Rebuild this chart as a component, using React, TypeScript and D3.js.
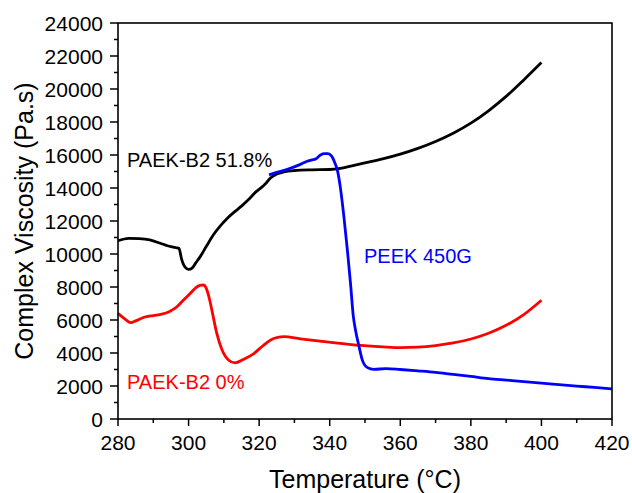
import React from 'react';
import * as d3 from 'd3';

// PAEK-B2 51.8% (black)
const blackT = [280, 283, 286, 289, 292, 294, 296.5, 297.3, 298, 299, 300, 301, 302, 303.3, 305, 307, 309, 311, 313, 315, 317, 319, 321, 322, 323.2, 325, 327, 330, 335, 340, 343, 346, 350, 355, 360, 365, 370, 375, 380, 385, 390, 395, 400];
const blackV = [10800, 10950, 10930, 10850, 10650, 10500, 10380, 10330, 9700, 9200, 9070, 9150, 9450, 9840, 10450, 11150, 11700, 12170, 12550, 12900, 13300, 13750, 14100, 14300, 14600, 14850, 14980, 15060, 15100, 15120, 15190, 15330, 15520, 15760, 16050, 16400, 16820, 17320, 17930, 18680, 19550, 20550, 21600];

// PEEK 450G (blue)
const blueT = [322.8, 325, 328, 331.7, 333.6, 335, 336, 337.4, 338.5, 339.5, 340.5, 341.5, 342.2, 343.1, 344, 345, 345.9, 346.7, 347.3, 348.3, 349.2, 350.6, 352.5, 356, 360, 365, 370, 375, 380, 385, 390, 395, 400, 405, 410, 415, 420];
const blueV = [14800, 14950, 15130, 15430, 15620, 15700, 15760, 16000, 16080, 16080, 15950, 15500, 15050, 13900, 12300, 10250, 8200, 6200, 5400, 4400, 3600, 3130, 3010, 3050, 3000, 2920, 2830, 2700, 2580, 2450, 2360, 2270, 2170, 2080, 1990, 1920, 1830];

// PAEK-B2 0% (red)
const redT = [280, 282, 283.6, 285, 287.2, 290, 292.4, 294.5, 296.7, 298.5, 300.5, 302, 303.2, 304.2, 305.2, 306, 306.6, 308, 309.5, 311.3, 313.2, 315.6, 318.4, 321.3, 324.1, 327, 331.7, 336, 341, 348.8, 355, 360, 365, 370, 375, 380, 385, 390, 395, 400];
const redV = [6400, 6050, 5840, 5950, 6150, 6270, 6350, 6500, 6800, 7200, 7620, 7950, 8100, 8120, 7820, 7200, 6600, 5190, 4180, 3580, 3400, 3620, 3950, 4480, 4880, 4990, 4860, 4750, 4630, 4460, 4370, 4320, 4350, 4450, 4610, 4850, 5200, 5680, 6330, 7200];

const xTicks = [280, 300, 320, 340, 360, 380, 400, 420];
const yTicks = [0, 2000, 4000, 6000, 8000, 10000, 12000, 14000, 16000, 18000, 20000, 22000, 24000];

const W = 632;
const H = 493;
const left = 118;
const right = 612;
const top = 23;
const bottom = 419;
const font = 'Arial, "Liberation Sans", sans-serif';

export default function App() {
  const x = d3.scaleLinear().domain([280, 420]).range([left, right]);
  const y = d3.scaleLinear().domain([0, 24000]).range([bottom, top]);

  const line = d3
    .line<[number, number]>()
    .x(d => x(d[0]))
    .y(d => y(d[1]))
    .curve(d3.curveMonotoneX);

  const series = [
    { t: blackT, v: blackV, color: '#000000' },
    { t: redT, v: redV, color: '#ff0000' },
    { t: blueT, v: blueV, color: '#0000ff' },
  ];

  const xMinor = d3.range(290, 420, 20);
  const yMinor = d3.range(1000, 24000, 2000);

  return (
    <svg width={W} height={H} style={{ position: 'absolute', left: 0, top: 0, background: '#fff' }} fontFamily={font}>
      {series.map((s, i) => (
        <path
          key={i}
          d={line(s.t.map((t, j) => [t, s.v[j]] as [number, number])) || ''}
          fill="none"
          stroke={s.color}
          strokeWidth={2.8}
          strokeLinejoin="round"
        />
      ))}

      {/* frame */}
      <rect x={left} y={top} width={right - left} height={bottom - top} fill="none" stroke="#000" strokeWidth={1.6} />

      {/* y axis ticks */}
      {yTicks.map(t => (
        <g key={'y' + t}>
          <line x1={left - 8} x2={left} y1={y(t)} y2={y(t)} stroke="#000" strokeWidth={1.5} />
          <text x={103} y={y(t)} dy="0.36em" textAnchor="end" fontSize={21}>
            {t}
          </text>
        </g>
      ))}
      {yMinor.map(t => (
        <line key={'ym' + t} x1={left - 4} x2={left} y1={y(t)} y2={y(t)} stroke="#000" strokeWidth={1.5} />
      ))}

      {/* x axis ticks */}
      {xTicks.map(t => (
        <g key={'x' + t}>
          <line x1={x(t)} x2={x(t)} y1={bottom} y2={bottom + 7} stroke="#000" strokeWidth={1.5} />
          <text x={x(t)} y={450} textAnchor="middle" fontSize={21}>
            {t}
          </text>
        </g>
      ))}
      {xMinor.map(t => (
        <line key={'xm' + t} x1={x(t)} x2={x(t)} y1={bottom} y2={bottom + 4} stroke="#000" strokeWidth={1.5} />
      ))}

      {/* axis titles */}
      <text x={(left + right) / 2} y={488} textAnchor="middle" fontSize={25}>
        Temperature (°C)
      </text>
      <text transform={`translate(33,${(top + bottom) / 2}) rotate(-90)`} textAnchor="middle" fontSize={25}>
        Complex Viscosity (Pa.s)
      </text>

      {/* series labels */}
      <text x={127} y={166.5} fontSize={20} fill="#000">
        PAEK-B2 51.8%
      </text>
      <text x={364} y={262.5} fontSize={20} fill="#0000ff">
        PEEK 450G
      </text>
      <text x={127} y={388.5} fontSize={20} fill="#ff0000">
        PAEK-B2 0%
      </text>
    </svg>
  );
}
